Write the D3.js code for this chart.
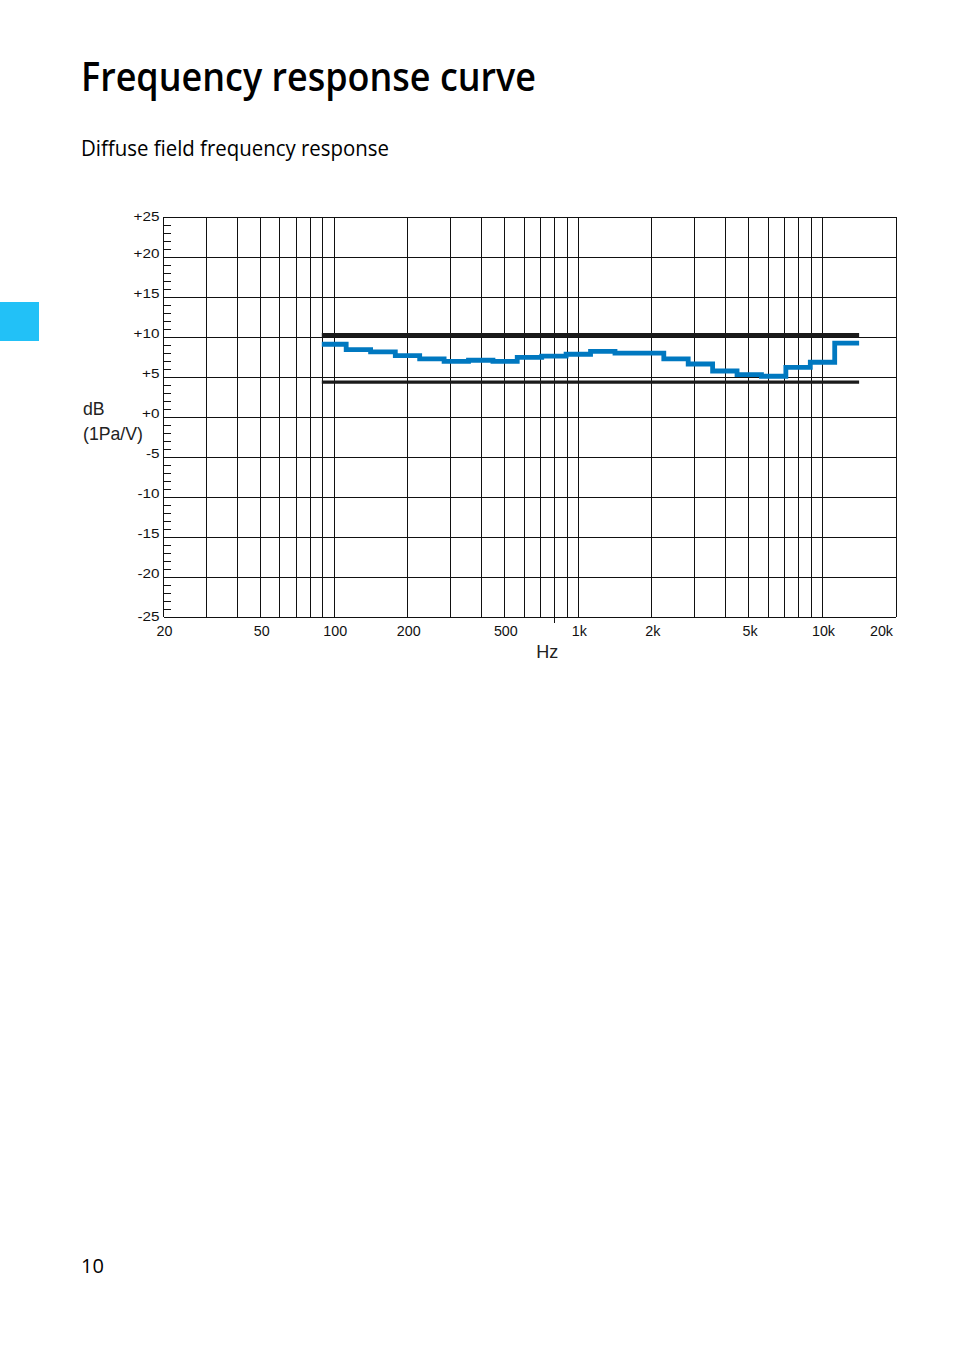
<!DOCTYPE html>
<html>
<head>
<meta charset="utf-8">
<script src="https://cdn.jsdelivr.net/npm/d3@7"></script>
<style>
  html, body { margin: 0; padding: 0; background: #fff; }
  svg { display: block; }
</style>
</head>
<body>
<svg id="page" width="954" height="1352"></svg>
<script>
// ---------- data ----------
const titleText = "Frequency response curve";
const subtitleText = "Diffuse field frequency response";
const pageNumber = "10";
const yUnitLines = ["dB", "(1Pa/V)"];
const xUnit = "Hz";

const freqDomain = [20, 20000];
const dbDomain = [-25, 25];

const freqTicks = [20, 50, 100, 200, 500, 1000, 2000, 5000, 10000, 20000];
const freqTickLabels = ["20", "50", "100", "200", "500", "1k", "2k", "5k", "10k", "20k"];
const gridFreqs = [30, 40, 50, 60, 70, 80, 90, 100,
  200, 300, 400, 500, 600, 700, 800, 900, 1000,
  2000, 3000, 4000, 5000, 6000, 7000, 8000, 9000, 10000, 20000];
const markerFreq = [800];

const dbTicks = [25, 20, 15, 10, 5, 0, -5, -10, -15, -20, -25];
const dbTickLabels = ["+25", "+20", "+15", "+10", "+5", "+0", "-5", "-10", "-15", "-20", "-25"];
const dbMinorTicks = d3.range(-24, 25).filter(v => v % 5 !== 0);

// third-octave band edges (Hz) and measured levels (dB) per band
const bandEdges = [89, 112, 141, 178, 224, 282, 355, 447, 562, 708, 891, 1122,
  1413, 1778, 2239, 2818, 3548, 4467, 5623, 7079, 8913, 11220, 14125];
const bandLevels = [9.13, 8.45, 8.19, 7.70, 7.31, 7.00, 7.13, 6.98, 7.50, 7.64, 7.88,
  8.23, 8.01, 8.01, 7.30, 6.66, 5.79, 5.33, 5.13, 6.25, 6.88, 9.26];

// tolerance window
const toleranceFreqs = [89, 14125];
const toleranceUpper = 10.25;
const toleranceLower = 4.4;

// ---------- drawing ----------
const svg = d3.select("#page");
const FONT_AXIS = "'Liberation Sans', Arial, Helvetica, sans-serif";
const FONT_TEXT = "'Open Sans', 'Noto Sans', sans-serif";

// side tab
svg.append("rect").attr("x", 0).attr("y", 302).attr("width", 39).attr("height", 39)
  .attr("fill", "#22c1f7");

function fitText(sel, target) {
  const w = sel.node().getComputedTextLength();
  if (w > 0) sel.attr("textLength", target).attr("lengthAdjust", "spacingAndGlyphs");
}

const title = svg.append("text").attr("x", 81).attr("y", 91)
  .attr("font-family", FONT_TEXT).attr("font-weight", 600).attr("font-size", 40)
  .attr("fill", "#000").text(titleText);
fitText(title, 455);

const sub = svg.append("text").attr("x", 81).attr("y", 156)
  .attr("font-family", FONT_TEXT).attr("font-weight", 400).attr("font-size", 21)
  .attr("fill", "#000").text(subtitleText);
fitText(sub, 308);

svg.append("text").attr("x", 81).attr("y", 1273)
  .attr("font-family", FONT_TEXT).attr("font-size", 20).attr("fill", "#000")
  .text(pageNumber);

// scales
const x = d3.scaleLog().domain(freqDomain).range([163.5, 896]);
const y = d3.scaleLinear().domain(dbDomain).range([617.3, 217.3]);

const g = svg.append("g");
const ink = "#111";

// vertical grid
g.append("g").selectAll("line").data(gridFreqs).join("line")
  .attr("x1", d => x(d)).attr("x2", d => x(d))
  .attr("y1", y(25)).attr("y2", y(-25))
  .attr("stroke", ink).attr("stroke-width", 1).attr("shape-rendering", "crispEdges");

// marker tick below axis
g.append("g").selectAll("line").data(markerFreq).join("line")
  .attr("x1", d => x(d)).attr("x2", d => x(d))
  .attr("y1", y(-25)).attr("y2", y(-25) + 6)
  .attr("stroke", ink).attr("stroke-width", 1).attr("shape-rendering", "crispEdges");

// horizontal grid
g.append("g").selectAll("line").data(dbTicks).join("line")
  .attr("x1", x(20)).attr("x2", x(20000))
  .attr("y1", d => y(d)).attr("y2", d => y(d))
  .attr("stroke", ink).attr("stroke-width", 1).attr("shape-rendering", "crispEdges");

// left axis line
g.append("line").attr("x1", x(20)).attr("x2", x(20)).attr("y1", y(25)).attr("y2", y(-25))
  .attr("stroke", ink).attr("stroke-width", 1).attr("shape-rendering", "crispEdges");

// minor ticks (inside)
g.append("g").selectAll("line").data(dbMinorTicks).join("line")
  .attr("x1", x(20)).attr("x2", x(20) + 7)
  .attr("y1", d => y(d)).attr("y2", d => y(d))
  .attr("stroke", ink).attr("stroke-width", 1).attr("shape-rendering", "crispEdges");

// y labels
g.append("g").selectAll("text").data(dbTicks).join("text")
  .attr("transform", (d) => {
    const off = Math.abs(d) === 25 ? 3.5 : 1;
    return `translate(159.5,${y(d) + off}) scale(1.14,1)`;
  })
  .attr("text-anchor", "end")
  .attr("font-family", FONT_AXIS).attr("font-size", 13.4).attr("fill", "#111")
  .text((d, i) => dbTickLabels[i]);

// x labels
g.append("g").selectAll("text").data(freqTicks).join("text")
  .attr("x", d => d === 20000 ? x(d) - 3 : x(d) + 1)
  .attr("y", 635.7)
  .attr("text-anchor", d => d === 20000 ? "end" : "middle")
  .attr("font-family", FONT_AXIS).attr("font-size", 14.3).attr("fill", "#111")
  .text((d, i) => freqTickLabels[i]);

// unit labels
const yUnit = g.append("text").attr("font-family", FONT_AXIS).attr("font-size", 17.7).attr("fill", "#222");
yUnit.selectAll("tspan").data(yUnitLines).join("tspan")
  .attr("x", 83).attr("y", (d, i) => 415 + i * 24.5).text(d => d);

g.append("text").attr("x", 547.3).attr("y", 658.3).attr("text-anchor", "middle")
  .attr("font-family", FONT_AXIS).attr("font-size", 18).attr("fill", "#222").text(xUnit);

// tolerance lines
g.append("line").attr("x1", x(toleranceFreqs[0])).attr("x2", x(toleranceFreqs[1]))
  .attr("y1", y(toleranceUpper)).attr("y2", y(toleranceUpper))
  .attr("stroke", "#1a1a1a").attr("stroke-width", 4.6);
g.append("line").attr("x1", x(toleranceFreqs[0])).attr("x2", x(toleranceFreqs[1]))
  .attr("y1", y(toleranceLower)).attr("y2", y(toleranceLower))
  .attr("stroke", "#1a1a1a").attr("stroke-width", 3.4);

// response step curve
const pts = bandEdges.map((f, i) => [f, bandLevels[Math.min(i, bandLevels.length - 1)]]);
const line = d3.line().x(d => x(d[0])).y(d => y(d[1])).curve(d3.curveStepAfter);
g.append("path").attr("d", line(pts))
  .attr("fill", "none").attr("stroke", "#0078c0").attr("stroke-width", 4.8)
  .attr("stroke-linejoin", "miter");
</script>
</body>
</html>
